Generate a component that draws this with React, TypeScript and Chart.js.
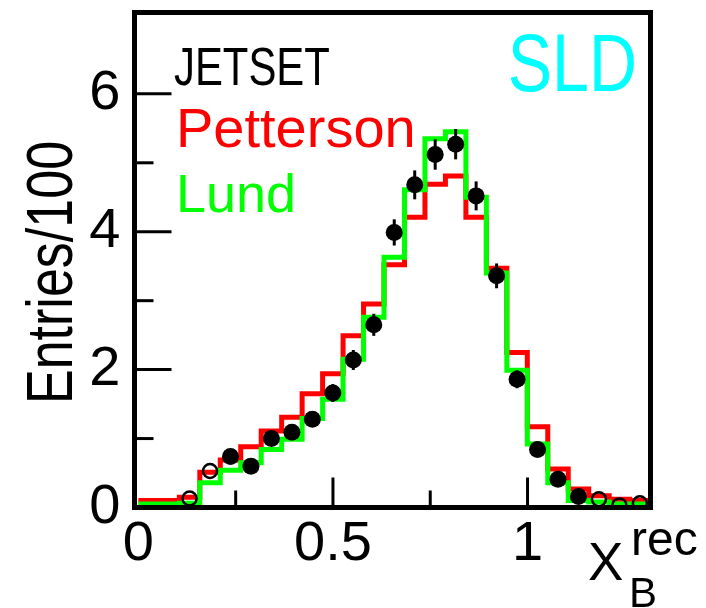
import React, { useEffect, useRef } from "react";
import { Chart, registerables } from "chart.js";

Chart.register(...registerables);

// Bin lower edges (x_B^rec) and upper edge of the last bin
const binLow = [
  0, 0.0526, 0.1052, 0.1578, 0.2104, 0.263, 0.3156, 0.3682, 0.4208, 0.4734,
  0.526, 0.5786, 0.6312, 0.6838, 0.7364, 0.789, 0.8416, 0.8942, 0.9468, 0.9994,
  1.052, 1.1046, 1.1572, 1.2098, 1.2624,
];
const binHigh = 1.315;

// JETSET Petterson (red) and Lund (green) histograms, Entries/100
const petterson = [
  0.10, 0.10, 0.15, 0.51, 0.69, 0.88, 1.11, 1.31, 1.65, 1.94,
  2.49, 2.95, 3.52, 4.21, 4.69, 4.81, 4.21, 3.47, 2.25, 1.17,
  0.56, 0.27, 0.17, 0.12, 0.10,
];
const lund = [
  0.05, 0.05, 0.06, 0.36, 0.54, 0.65, 0.84, 0.99, 1.29, 1.57,
  2.15, 2.76, 3.63, 4.61, 5.35, 5.45, 4.50, 3.40, 1.99, 0.92,
  0.36, 0.10, 0.08, 0.05, 0.05,
];
// SLD data: filled points (used), open points (outside fit range)
const dataFilled = [
  null, null, null, null, 0.74, 0.60, 1.00, 1.09, 1.28, 1.66,
  2.14, 2.65, 3.99, 4.68, 5.12, 5.27, 4.52, 3.36, 1.86, 0.84,
  0.41, 0.16, null, null, null,
];
const dataErr = [
  0, 0, 0, 0, 0.10, 0.09, 0.10, 0.10, 0.11, 0.13,
  0.145, 0.16, 0.19, 0.21, 0.22, 0.22, 0.21, 0.18, 0.13, 0.09,
  0.06, 0.04, 0, 0, 0,
];
const dataOpen = [
  null, null, 0.13, 0.53, null, null, null, null, null, null,
  null, null, null, null, null, null, null, null, null, null,
  null, null, 0.12, 0.03, 0.06,
];

const xMajorTicks = [0, 0.5, 1];
const xMinorTicks = [0.25, 0.75];
const yMajorTicks = [0, 2, 4, 6];
const yMinorTicks = [1, 3, 5];
const legendLabels = ["JETSET", "Petterson", "Lund"];
const experimentLabel = "SLD";
const yTitle = "Entries/100";

const FONT = '"Liberation Sans", Arial, sans-serif';

const binCenter = (i: number) => (binLow[i] + (i + 1 < binLow.length ? binLow[i + 1] : binHigh)) / 2;
const stepData = (vals: number[]) => [
  ...binLow.map((x, i) => ({ x, y: vals[i] })),
  { x: binHigh, y: vals[vals.length - 1] },
];
const pointData = (vals: (number | null)[]) =>
  vals.map((v, i) => (v === null ? null : { x: binCenter(i), y: v })).filter((p) => p !== null);

function drawText(
  ctx: CanvasRenderingContext2D,
  text: string,
  x: number,
  y: number,
  size: number,
  color: string,
  sx: number,
  align: CanvasTextAlign = "left",
  rot = 0
) {
  ctx.save();
  ctx.translate(x, y);
  if (rot) ctx.rotate(rot);
  ctx.scale(sx, 1);
  ctx.font = `${size}px ${FONT}`;
  ctx.fillStyle = color;
  ctx.textAlign = align;
  ctx.textBaseline = "alphabetic";
  ctx.fillText(text, 0, 0);
  ctx.restore();
}

const decorPlugin = {
  id: "decor",
  beforeDatasetsDraw(chart: any) {
    const { ctx, chartArea: a, scales } = chart;
    const xs = scales.x;
    const ys = scales.y;
    ctx.save();
    ctx.strokeStyle = "#000";
    ctx.lineWidth = 3;
    ctx.lineCap = "butt";
    const yt = (v: number, len: number) => {
      const py = ys.getPixelForValue(v);
      ctx.beginPath();
      ctx.moveTo(a.left, py);
      ctx.lineTo(a.left + len, py);
      ctx.stroke();
    };
    yMajorTicks.forEach((v) => yt(v, 37));
    yMinorTicks.forEach((v) => yt(v, 19));
    const xt = (v: number, len: number) => {
      const px = xs.getPixelForValue(v);
      ctx.beginPath();
      ctx.moveTo(px, a.bottom);
      ctx.lineTo(px, a.bottom - len);
      ctx.stroke();
    };
    xMajorTicks.filter((v) => v > 0).forEach((v) => xt(v, 30));
    xMinorTicks.forEach((v) => xt(v, 17));
    ctx.restore();
  },
  afterDatasetsDraw(chart: any) {
    const { ctx, chartArea: a, scales } = chart;
    const xs = scales.x;
    const ys = scales.y;
    ctx.save();
    // error bars
    ctx.strokeStyle = "#000";
    ctx.lineWidth = 3;
    dataFilled.forEach((v, i) => {
      if (v === null) return;
      const px = xs.getPixelForValue(binCenter(i));
      ctx.beginPath();
      ctx.moveTo(px, ys.getPixelForValue(v - dataErr[i]));
      ctx.lineTo(px, ys.getPixelForValue(v + dataErr[i]));
      ctx.stroke();
    });
    // frame
    ctx.lineWidth = 5;
    ctx.lineJoin = "miter";
    ctx.strokeRect(a.left, a.top, a.right - a.left, a.bottom - a.top);
    ctx.restore();

    // legend texts
    drawText(ctx, legendLabels[0], 174, 85, 53, "#000000", 0.79);
    drawText(ctx, legendLabels[1], 176, 147, 56, "#ff0000", 1);
    drawText(ctx, legendLabels[2], 176, 212, 54, "#00ff00", 1);
    drawText(ctx, experimentLabel, 637, 91, 81, "#00ffff", 0.82, "right");
    // y title
    drawText(ctx, yTitle, 72, 404, 65, "#000000", 0.8, "left", -Math.PI / 2);
    // x title: X_B^rec
    drawText(ctx, "X", 588, 580, 53, "#000000", 1);
    drawText(ctx, "rec", 631, 555, 48, "#000000", 1);
    drawText(ctx, "B", 629, 607, 42, "#000000", 1);
  },
};

export default function App() {
  const ref = useRef<HTMLCanvasElement | null>(null);
  useEffect(() => {
    if (!ref.current) return;
    const chart = new Chart(ref.current, {
      type: "line",
      data: {
        datasets: [
          {
            label: legendLabels[1],
            data: stepData(petterson),
            stepped: "before",
            borderColor: "#ff0000",
            borderWidth: 5,
            borderJoinStyle: "miter",
            pointRadius: 0,
            fill: false,
            order: 4,
          },
          {
            label: legendLabels[2],
            data: stepData(lund),
            stepped: "before",
            borderColor: "#00ff00",
            borderWidth: 5,
            borderJoinStyle: "miter",
            pointRadius: 0,
            fill: false,
            order: 3,
          },
          {
            type: "scatter",
            label: "SLD open",
            data: pointData(dataOpen),
            showLine: false,
            pointRadius: 7,
            pointBorderWidth: 2.5,
            pointBorderColor: "#000000",
            pointBackgroundColor: "rgba(0,0,0,0)",
            order: 2,
          },
          {
            type: "scatter",
            label: "SLD",
            data: pointData(dataFilled),
            showLine: false,
            pointRadius: 8.5,
            pointBorderWidth: 0,
            pointBackgroundColor: "#000000",
            pointBorderColor: "#000000",
            order: 1,
          },
        ] as any,
      },
      options: {
        animation: false,
        responsive: false,
        devicePixelRatio: 1,
        layout: { padding: { left: 0, right: 55.5, top: 12.5, bottom: 0 } },
        plugins: { legend: { display: false }, tooltip: { enabled: false } },
        scales: {
          x: {
            type: "linear",
            min: -0.01,
            max: 1.316,
            grid: { display: false, drawTicks: false },
            border: { display: false },
            afterBuildTicks: (s: any) => {
              s.ticks = xMajorTicks.map((v) => ({ value: v }));
            },
            afterFit: (s: any) => {
              s.height = 100.5;
              s.paddingLeft = 0;
              s.paddingRight = 0;
              s.paddingTop = 0;
              s.paddingBottom = 0;
            },
            ticks: {
              autoSkip: false,
              maxRotation: 0,
              padding: 3,
              color: "#000",
              font: { family: FONT, size: 56 },
              callback: (v: any) => String(v),
            },
          },
          y: {
            type: "linear",
            min: 0,
            max: 7.18,
            grid: { display: false, drawTicks: false },
            border: { display: false },
            afterBuildTicks: (s: any) => {
              s.ticks = yMajorTicks.map((v) => ({ value: v }));
            },
            afterFit: (s: any) => {
              s.width = 134.5;
              s.paddingLeft = 0;
              s.paddingRight = 0;
              s.paddingTop = 0;
              s.paddingBottom = 0;
            },
            ticks: {
              autoSkip: false,
              padding: 14,
              color: "#000",
              font: { family: FONT, size: 56 },
              callback: (v: any) => String(v),
            },
          },
        },
      },
      plugins: [decorPlugin],
    });
    return () => chart.destroy();
  }, []);
  return (
    <div style={{ position: "fixed", left: 0, top: 0, width: 706, height: 608, background: "#fff" }}>
      <canvas ref={ref} width={706} height={608} style={{ width: 706, height: 608 }} />
    </div>
  );
}
